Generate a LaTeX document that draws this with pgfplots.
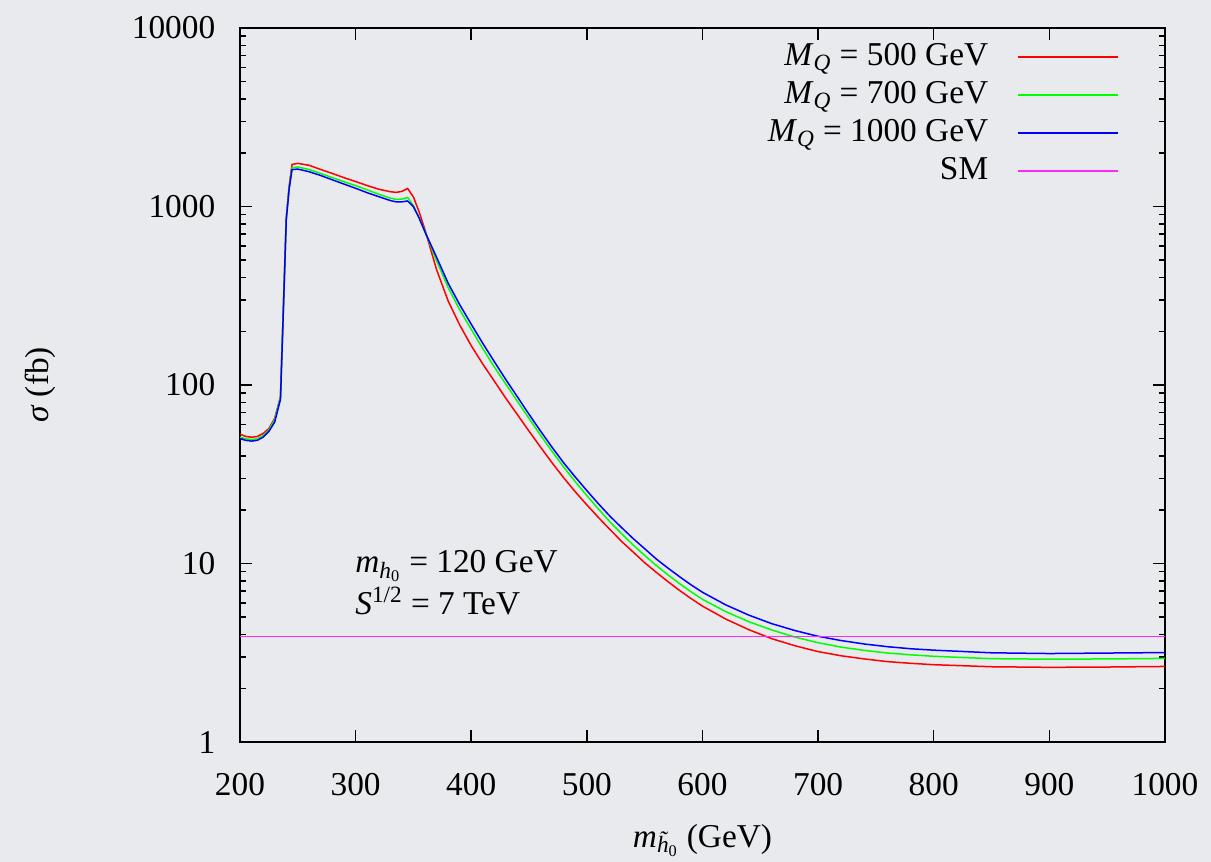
\documentclass[border=0pt]{standalone}
\usepackage{fontspec}
\setmainfont{Liberation Serif}
\usepackage{pgfplots}
\pgfplotsset{compat=1.18}
\definecolor{bg}{RGB}{233,234,238}
\definecolor{smc}{RGB}{255,40,255}
\newcommand{\htilde}{\ooalign{\textit{h}\cr\hidewidth\kern0.08em\raisebox{0.22em}{\textit{\char"02DC}}\hidewidth\cr}}
\begin{document}
\fontsize{20}{23}\selectfont
\begin{tikzpicture}
\fill[bg] (-144pt,-72pt) rectangle (582.6pt,445.2pt);
\begin{axis}[
  at={(0,0)}, anchor=south west,
  scale only axis, width=555pt, height=428.4pt,
  xmin=200, xmax=1000, ymin=1, ymax=10000, ymode=log,
  xtick={200,300,400,500,600,700,800,900,1000},
  xticklabels={200,300,400,500,600,700,800,900,1000},
  ytick={1,10,100,1000,10000},
  yticklabels={1,10,100,1000,10000},
  tick align=inside, major tick length=7pt, minor tick length=3.6pt,
  tick style={black, line width=0.9pt},
  axis line style={black, line width=0.9pt},
  axis background/.style={fill=bg},
  /pgf/number format/assume math mode=true,
  xticklabel style={yshift=-12pt},
  yticklabel style={xshift=-8pt},
  every axis x label/.style={at={([yshift=-59pt]axis description cs:0.5,0)}, anchor=center},
  every axis y label/.style={at={([xshift=-120pt]axis description cs:0,0.5)}, anchor=center, rotate=90},
  xlabel={\textit{m}\textsubscript{\htilde\textsubscript{0}} (GeV)},
  ylabel={\textit{σ} (fb)},
  legend style={draw=none, fill=none, at={([xshift=-24.4pt,yshift=-5pt]axis description cs:1,1)}, anchor=north east, row sep=2.5pt, column sep=15.6pt},
  legend cell align=right, legend plot pos=right,
  legend image code/.code={\draw[#1, line width=0.9pt] (0pt,0pt) -- (60pt,0pt);},
  every axis plot/.append style={line width=0.9pt},
]
\addplot[red] coordinates {(200,53)(205,51.5)(210,51)(215,51.5)(220,53.5)(225,57)(230,65)(235,86)(237.5,270)(240,860)(242.5,1300)(245,1720)(250,1745)(260,1700)(270,1610)(280,1530)(290,1450)(300,1380)(310,1310)(320,1250)(330,1210)(335,1200)(340,1215)(345,1262)(350,1130)(355,930)(360,740)(370,443)(380,296)(390,217)(400,166)(410,131)(420,105)(430,84.1)(440,68.1)(450,55.1)(460,44.8)(470,36.6)(480,30.2)(490,25.2)(500,21.3)(510,18.1)(520,15.5)(530,13.3)(540,11.6)(550,10.1)(560,8.93)(570,7.93)(580,7.08)(590,6.37)(600,5.77)(620,4.89)(640,4.26)(660,3.79)(680,3.46)(700,3.21)(720,3.04)(740,2.92)(760,2.82)(780,2.76)(800,2.71)(850,2.64)(900,2.62)(950,2.63)(1000,2.65)};
\addlegendentry{\textit{M}\textsubscript{\textit{Q}} = 500 GeV}
\addplot[green] coordinates {(200,51)(205,50)(210,49.5)(215,50)(220,52)(225,56)(230,64)(235,85)(237.5,265)(240,850)(242.5,1270)(245,1650)(250,1665)(260,1610)(270,1530)(280,1450)(290,1375)(300,1310)(310,1240)(320,1170)(330,1115)(335,1096)(340,1100)(345,1124)(350,1010)(355,860)(360,725)(370,497)(380,352)(390,264)(400,205)(410,160)(420,126)(430,101)(440,80.9)(450,64.9)(460,52.2)(470,42.4)(480,34.7)(490,28.7)(500,24.0)(510,20.2)(520,17.1)(530,14.7)(540,12.7)(550,11.1)(560,9.75)(570,8.65)(580,7.73)(590,6.95)(600,6.30)(620,5.38)(640,4.72)(660,4.24)(680,3.87)(700,3.60)(720,3.40)(740,3.26)(760,3.15)(780,3.08)(800,3.02)(850,2.93)(900,2.91)(950,2.92)(1000,2.94)};
\addlegendentry{\textit{M}\textsubscript{\textit{Q}} = 700 GeV}
\addplot[blue] coordinates {(200,50)(205,49)(210,48.5)(215,49)(220,51)(225,55)(230,62)(235,83)(237.5,260)(240,840)(242.5,1250)(245,1610)(250,1620)(260,1565)(270,1490)(280,1410)(290,1335)(300,1265)(310,1195)(320,1135)(330,1080)(335,1062)(340,1062)(345,1074)(350,997)(355,860)(360,720)(370,520)(380,372)(390,282)(400,219)(410,171)(420,135)(430,107)(440,85.7)(450,68.5)(460,55.1)(470,44.7)(480,36.6)(490,30.5)(500,25.6)(510,21.6)(520,18.4)(530,15.9)(540,13.8)(550,12.1)(560,10.6)(570,9.44)(580,8.45)(590,7.60)(600,6.90)(620,5.87)(640,5.14)(660,4.60)(680,4.21)(700,3.91)(720,3.70)(740,3.54)(760,3.42)(780,3.33)(800,3.27)(850,3.16)(900,3.13)(950,3.15)(1000,3.17)};
\addlegendentry{\textit{M}\textsubscript{\textit{Q}} = 1000 GeV}
\addplot[smc] coordinates {(200,3.9)(1000,3.9)};
\addlegendentry{SM}
\node[anchor=base west, inner sep=0pt] at (axis cs:299.5,8.85) {\textit{m}\textsubscript{\textit{h}\textsubscript{0}} = 120 GeV};
\node[anchor=base west, inner sep=0pt] at (axis cs:299.5,5.15) {\textit{S}\textsuperscript{1/2} = 7 TeV};
\end{axis}
\pgfresetboundingbox
\path[use as bounding box] (-144pt,-72pt) rectangle (582.6pt,445.2pt);
\end{tikzpicture}
\end{document}
